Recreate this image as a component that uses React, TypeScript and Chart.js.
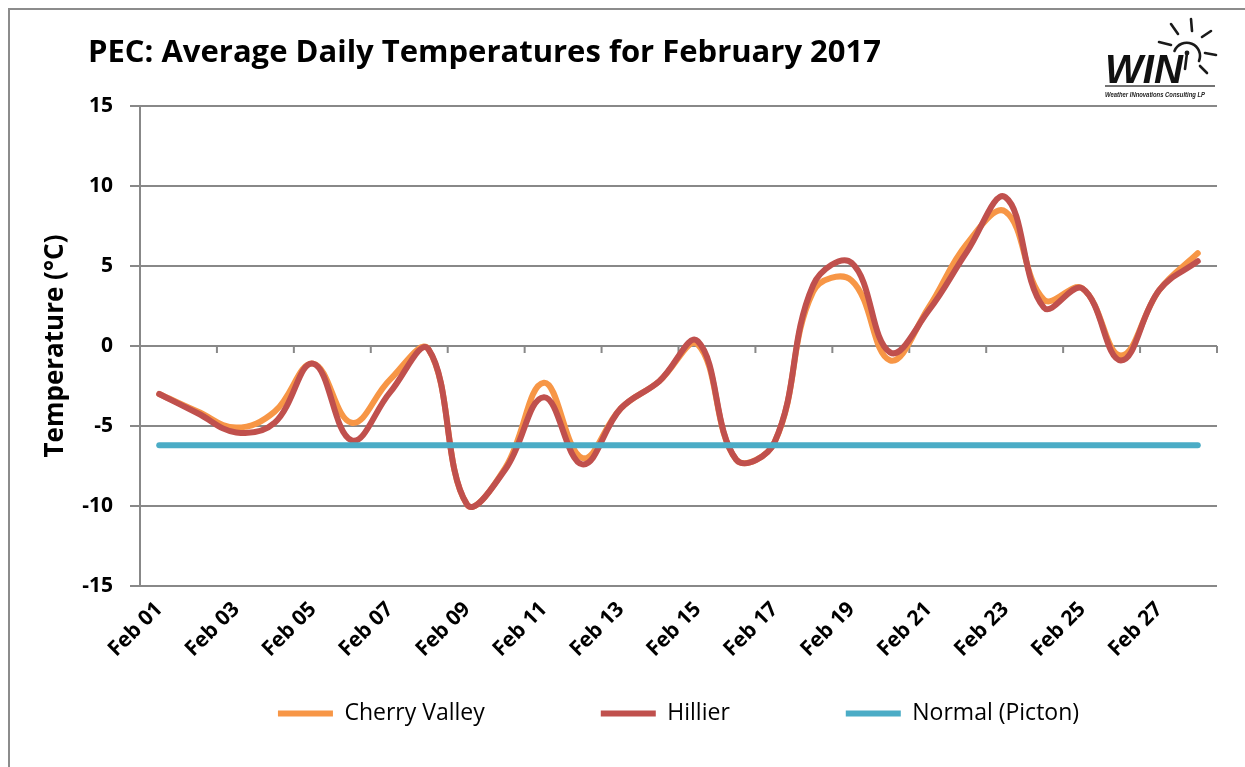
import React, { useEffect, useRef } from "react";
import { Chart, registerables, CategoryScale } from "chart.js";

// Category axis whose tick labels are not clipped to the axis box, so labels can sit
// below the axis while the legend is laid out directly under the plot area.
class FreeLabelCategoryScale extends (CategoryScale as any) {
  static id = "categoryFree";
  _computeLabelArea() {
    return undefined;
  }
}

Chart.register(...registerables, FreeLabelCategoryScale as any);

const DAY_LABELS = [
  "Feb 01", "Feb 02", "Feb 03", "Feb 04", "Feb 05", "Feb 06", "Feb 07",
  "Feb 08", "Feb 09", "Feb 10", "Feb 11", "Feb 12", "Feb 13", "Feb 14",
  "Feb 15", "Feb 16", "Feb 17", "Feb 18", "Feb 19", "Feb 20", "Feb 21",
  "Feb 22", "Feb 23", "Feb 24", "Feb 25", "Feb 26", "Feb 27", "Feb 28",
];

const CHERRY_VALLEY = [
  -3.0, -4.1, -5.1, -4.1, -1.1, -4.8, -2.1, -0.2, -9.9, -7.6, -2.3, -7.0, -3.9, -2.2,
  0.1, -7.1, -6.0, 3.4, 4.1, -0.9, 2.4, 6.4, 8.4, 2.9, 3.6, -0.6, 3.5, 5.8,
];

const HILLIER = [
  -3.0, -4.2, -5.4, -4.8, -1.1, -5.9, -2.9, -0.2, -9.9, -7.7, -3.2, -7.4, -3.9, -2.2,
  0.3, -7.1, -6.0, 3.8, 5.2, -0.4, 2.2, 5.9, 9.3, 2.4, 3.6, -0.9, 3.5, 5.3,
];

const NORMAL_PICTON = [
  -6.2, -6.2, -6.2, -6.2, -6.2, -6.2, -6.2, -6.2, -6.2, -6.2, -6.2, -6.2, -6.2, -6.2,
  -6.2, -6.2, -6.2, -6.2, -6.2, -6.2, -6.2, -6.2, -6.2, -6.2, -6.2, -6.2, -6.2, -6.2,
];

const Y_MIN = -15;
const Y_MAX = 15;
const Y_STEP = 5;

const TITLE = "PEC: Average Daily Temperatures for February 2017";
const Y_TITLE = "Temperature (°C)";
const SERIES_NAMES = ["Cherry Valley", "Hillier", "Normal (Picton)"];
const SERIES_COLORS = ["#F79646", "#C0504D", "#4BACC6"];

const FONT = "'Open Sans', Lato, sans-serif";
const GRID = "#888888";

const zeroTicks = {
  id: "zeroTicks",
  beforeDatasetsDraw(chart: any) {
    const { ctx } = chart;
    const xs = chart.scales.x;
    const ys = chart.scales.y;
    const y0 = ys.getPixelForValue(0);
    ctx.save();
    ctx.strokeStyle = GRID;
    ctx.lineWidth = 2;
    ctx.beginPath();
    for (let i = 0; i <= DAY_LABELS.length; i += 2) {
      const px = xs.getPixelForValue(i - 0.5);
      ctx.moveTo(px, y0);
      ctx.lineTo(px, y0 + 7);
    }
    ctx.stroke();
    ctx.restore();
  },
};

function Logo() {
  return (
    <svg
      width={135}
      height={92}
      style={{ position: "absolute", left: 1087, top: 7 }}
    >
      <g stroke="#1a1a1a" strokeWidth={2.6} strokeLinecap="round" fill="none">
        <path d="M 79.5 36 A 13 13 0 1 1 104 46" />
        <line x1={64} y1={27} x2={76} y2={30} />
        <line x1={76} y1={9} x2={83} y2={19} />
        <line x1={96} y1={4} x2={97} y2={16} />
        <line x1={107} y1={22} x2={116} y2={16} />
        <line x1={110} y1={38} x2={121} y2={40} />
        <line x1={105} y1={51} x2={112} y2={58} />
        <line x1={92} y1={38} x2={90} y2={54} />
      </g>
      <circle cx={92} cy={38} r={2.4} fill="#1a1a1a" />
      <text
        x={10}
        y={68}
        fontFamily="'Liberation Sans', Arial, sans-serif"
        fontWeight="bold"
        fontStyle="italic"
        fontSize={40}
        fill="#111"
        textLength={78}
        lengthAdjust="spacingAndGlyphs"
      >
        WIN
      </text>
      <line x1={10} y1={71} x2={120} y2={71} stroke="#444" strokeWidth={1.5} />
      <text
        x={10}
        y={82}
        fontFamily="'Liberation Sans', Arial, sans-serif"
        fontWeight="bold"
        fontStyle="italic"
        fontSize={7.5}
        fill="#222"
        textLength={100}
        lengthAdjust="spacingAndGlyphs"
      >
        Weather INnovations Consulting LP
      </text>
    </svg>
  );
}

export default function App() {
  const canvasRef = useRef<HTMLCanvasElement | null>(null);

  useEffect(() => {
    const canvas = canvasRef.current;
    if (!canvas) return;
    const mk = (i: number, data: number[], order: number) => ({
      label: SERIES_NAMES[i],
      data,
      borderColor: SERIES_COLORS[i],
      backgroundColor: SERIES_COLORS[i],
      borderWidth: 6,
      borderCapStyle: "round" as const,
      borderJoinStyle: "round" as const,
      pointRadius: 0,
      pointHoverRadius: 0,
      tension: 0.4,
      fill: false,
      order,
    });
    const chart = new Chart(canvas, {
      type: "line",
      data: {
        labels: DAY_LABELS,
        datasets: [
          mk(0, CHERRY_VALLEY, 3),
          mk(1, HILLIER, 2),
          mk(2, NORMAL_PICTON, 1),
        ],
      },
      options: {
        responsive: false,
        animation: false,
        devicePixelRatio: 1,
        layout: { padding: { top: 98, left: 0, right: 28, bottom: 32 } },
        plugins: {
          title: { display: false },
          tooltip: { enabled: false },
          legend: {
            display: true,
            position: "bottom",
            fullSize: false,
            align: "center",
            labels: {
              usePointStyle: true,
              pointStyle: "line",
              pointStyleWidth: 55,
              padding: 116,
              color: "#000",
              font: { family: FONT, size: 23 },
              sort: (a: any, b: any) => a.datasetIndex - b.datasetIndex,
            },
          },
        },
        scales: {
          x: {
            type: "categoryFree" as any,
            offset: true,
            grid: { display: false },
            border: { display: false },
            afterFit: (s: any) => {
              s.height = 0;
            },
            ticks: {
              autoSkip: false,
              minRotation: 45,
              maxRotation: 45,
              padding: 3,
              color: "#000",
              font: { family: FONT, size: 21, weight: "bold" },
              callback: (_v: any, i: number) => (i % 2 === 0 ? DAY_LABELS[i] : ""),
            },
          },
          y: {
            min: Y_MIN,
            max: Y_MAX,
            afterFit: (s: any) => {
              s.width = 132;
            },
            ticks: {
              stepSize: Y_STEP,
              padding: 17,
              color: "#000",
              font: { family: FONT, size: 21, weight: "bold" },
            },
            grid: { color: GRID, lineWidth: 2, tickLength: 10 },
            border: { color: GRID, width: 2 },
            title: {
              display: true,
              text: Y_TITLE,
              color: "#000",
              padding: { top: 32, bottom: 0 },
              font: { family: FONT, size: 26, weight: "bold" },
            },
          },
        },
      },
      plugins: [zeroTicks],
    });
    return () => chart.destroy();
  }, []);

  return (
    <div
      style={{
        position: "fixed",
        left: 8,
        top: 8,
        width: 1237,
        height: 759,
        overflow: "hidden",
        background: "#fff",
      }}
    >
      <div
        style={{
          position: "absolute",
          left: 0,
          top: 0,
          width: 2000,
          height: 2000,
          borderLeft: "2px solid #8c8c8c",
          borderTop: "2px solid #8c8c8c",
        }}
      />
      <canvas
        ref={canvasRef}
        width={1237}
        height={759}
        style={{ position: "absolute", left: 0, top: 0, width: 1237, height: 759 }}
      />
      <div
        style={{
          position: "absolute",
          left: 80,
          top: 25,
          fontFamily: FONT,
          fontWeight: "bold",
          fontSize: 31,
          lineHeight: "34px",
          color: "#000",
          whiteSpace: "nowrap",
        }}
      >
        {TITLE}
      </div>
      <Logo />
    </div>
  );
}
